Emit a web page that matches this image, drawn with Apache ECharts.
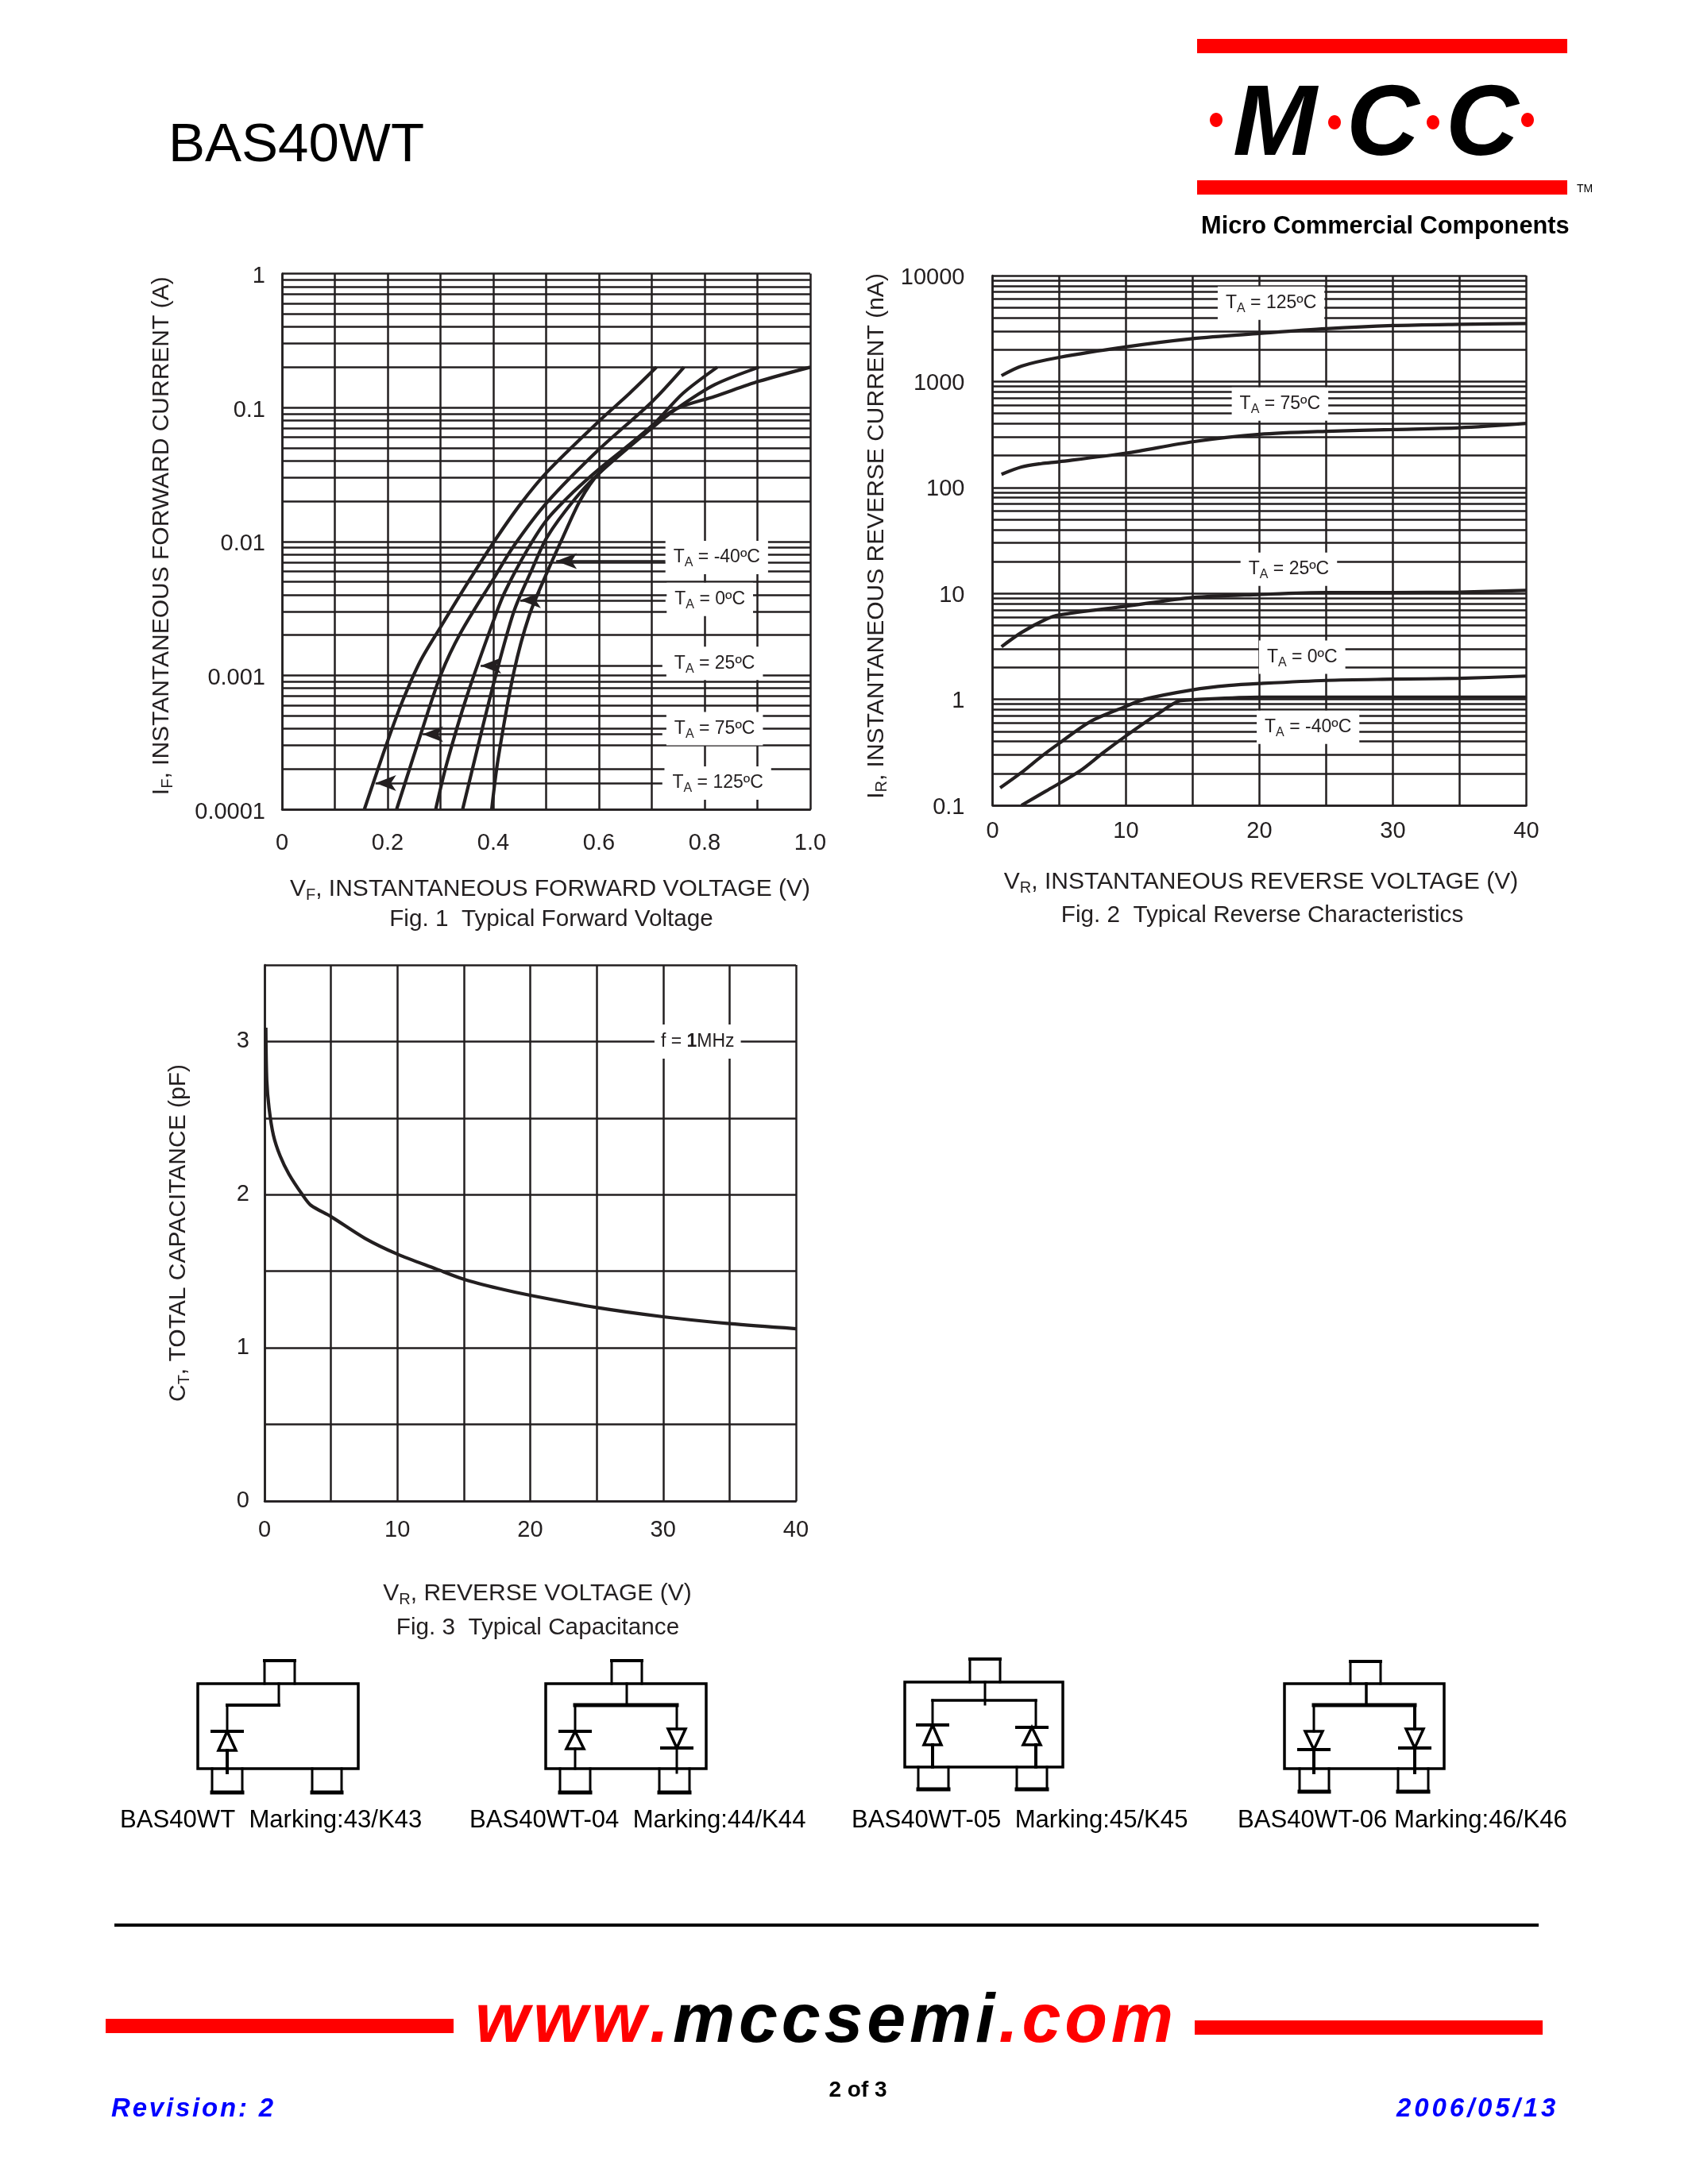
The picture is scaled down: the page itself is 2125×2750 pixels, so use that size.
<!DOCTYPE html>
<html>
<head>
<meta charset="utf-8">
<title>BAS40WT</title>
<script src="https://cdn.jsdelivr.net/npm/echarts@6/dist/echarts.min.js"></script>
<style>html,body{margin:0;padding:0;background:#fff}#page{width:2125px;height:2750px}</style>
</head>
<body>
<div id="page"></div>
<script>
// Fig. 1: forward current (A) against forward voltage (V)
const forward125 = [[0.156,1e-4],[0.198,3.07e-4],[0.228,6.4e-4],[0.262,1.28e-3],[0.301,2.32e-3],[0.354,5.09e-3],[0.401,0.0099],[0.451,0.0189],[0.502,0.0331],[0.599,0.0784],[0.658,0.1276],[0.709,0.2]];
const forward75 = [[0.217,1e-4],[0.27,4.47e-4],[0.301,1.02e-3],[0.338,2.07e-3],[0.401,5.3e-3],[0.439,0.00927],[0.502,0.0196],[0.599,0.0482],[0.70,0.11],[0.761,0.2]];
const forward25 = [[0.291,1e-4],[0.312,2.2e-4],[0.35,7e-4],[0.401,2.6e-3],[0.422,4.2e-3],[0.464,8.6e-3],[0.502,0.0146],[0.553,0.0237],[0.599,0.0344],[0.70,0.0728],[0.759,0.1276],[0.824,0.2]];
const forward0 = [[0.342,1e-4],[0.371,2.96e-4],[0.401,8.8e-4],[0.439,3.0e-3],[0.473,6.15e-3],[0.502,0.0108],[0.553,0.0204],[0.599,0.0319],[0.70,0.0701],[0.747,0.098],[0.819,0.148],[0.903,0.2]];
const forwardM40 = [[0.397,1e-4],[0.409,2.36e-4],[0.439,1.06e-3],[0.468,2.8e-3],[0.502,5.9e-3],[0.532,0.0108],[0.565,0.0204],[0.599,0.0319],[0.70,0.0728],[0.747,0.098],[0.819,0.121],[0.903,0.157],[1.0,0.2]];
const forwardXLabels = {0:'0',0.2:'0.2',0.4:'0.4',0.6:'0.6',0.8:'0.8',1:'1.0'};
const forwardYLabels = ['0.0001','0.001','0.01','0.1','1'];
const forwardDecades = [1e-4,1e-3,1e-2,1e-1];

// Fig. 2: reverse current (nA) against reverse voltage (V)
const reverse125 = [[0.67,1136],[2.17,1400],[5,1690],[9.95,2120],[15,2540],[20,2845],[25,3155],[30,3375],[35,3470],[40,3530]];
const reverse75 = [[0.67,133],[2.17,156],[3.67,168],[5,175],[10,211],[15,270],[20,317],[25,339],[30,352],[35,366],[40,402]];
const reverse25 = [[0.67,3.14],[2.17,4.28],[4,5.7],[5,6.27],[10,7.57],[15,9.14],[20,9.77],[25,10.2],[30,10.2],[35,10.3],[40,10.7]];
const reverse0 = [[0.57,0.146],[2.17,0.204],[3.67,0.29],[5,0.385],[7.33,0.617],[10,0.86],[11.35,1],[15,1.23],[17.7,1.35],[20,1.41],[25,1.51],[30,1.55],[35,1.58],[40,1.66]];
const reverseM40 = [[2.17,0.1],[4,0.136],[6.5,0.209],[8.35,0.318],[10,0.452],[12.35,0.724],[14,0.966],[15,0.99],[20,1.05],[25,1.05],[30,1.05],[40,1.05]];
const reverseYLabels = ['0.1','1','10','100','1000','10000'];
const reverseDecades = [0.1,1,10,100,1000];

// Fig. 3: total capacitance (pF) against reverse voltage (V)
const capacitance = [[0.1,3.09],[0.17,2.746],[0.34,2.567],[0.67,2.388],[1.17,2.254],[1.84,2.134],[2.85,2.0],[3.5,1.93],[5,1.857],[7.54,1.716],[10,1.612],[12.9,1.516],[15,1.448],[17.6,1.388],[20,1.343],[25,1.263],[30,1.203],[35,1.158],[40,1.125]];

const INK = '#231f20';
const FONT = '"Liberation Sans", Arial, sans-serif';
const TICK_SIZE = 29;
const NAME_SIZE = 30;
const TAG_SIZE = 23;
const GRID_WIDTH = 2.5;

const minorMultipliers = [2,3,4,5,6,7,8,9];
const decadeLines = (decades, xMin, xMax) => decades.flatMap(d => minorMultipliers.map(m => {
  const v = +(d*m).toPrecision(3);
  return [{coord: [xMin, v]}, {coord: [xMax, v]}];
}));

const nameRich = {
  a: {fontFamily: FONT, fontSize: NAME_SIZE, color: INK},
  s: {fontFamily: FONT, fontSize: 20, color: INK, padding: [14,0,0,0]}
};
const tagRich = {
  t: {fontFamily: FONT, fontSize: TAG_SIZE, color: INK},
  b: {fontFamily: FONT, fontSize: TAG_SIZE, color: INK, fontWeight: 'bold'},
  s: {fontFamily: FONT, fontSize: 16, color: INK, padding: [14,0,0,0]}
};

const tickLabel = extra => Object.assign({fontFamily: FONT, fontSize: TICK_SIZE, color: INK, hideOverlap: false, showMinLabel: true, showMaxLabel: true}, extra);

function valueAxis(idx, opts) {
  return Object.assign({
    gridIndex: idx, type: 'value', nameLocation: 'middle', silent: true,
    axisLine: {show: true, onZero: false, lineStyle: {color: INK, width: GRID_WIDTH}},
    axisTick: {show: false},
    splitLine: {show: true, lineStyle: {color: INK, width: GRID_WIDTH, type: 'solid'}}
  }, opts);
}
const minorX = {
  minorTick: {show: false, splitNumber: 2},
  minorSplitLine: {show: true, lineStyle: {color: INK, width: GRID_WIDTH}}
};

function curve(name, data, idx) {
  return {name, type: 'line', xAxisIndex: idx, yAxisIndex: idx, data, smooth: 0.3, showSymbol: false, symbol: 'none', z: 3, clip: false,
    lineStyle: {color: INK, width: 4.2, cap: 'butt'}, silent: true};
}
function gridSeries(idx, lines) {
  return {type: 'line', xAxisIndex: idx, yAxisIndex: idx, data: [], z: 1, silent: true,
    markLine: {silent: true, symbol: 'none', animation: false, z: 1, label: {show: false}, emphasis: {disabled: true},
      lineStyle: {color: INK, width: GRID_WIDTH, type: 'solid'}, data: lines}};
}
function tags(idx, items, arrows) {
  return {type: 'line', xAxisIndex: idx, yAxisIndex: idx, data: [], z: 6, silent: true,
    markLine: {silent: true, animation: false, z: 6, label: {show: false}, symbol: ['none','arrow'], emphasis: {disabled: true},
      lineStyle: {color: INK, width: 2.5, type: 'solid'},
      data: arrows.map(a => [{coord: [a[0], a[2]], symbol: 'none', symbolSize: 0}, {coord: [a[1], a[2]], symbol: 'arrow', symbolSize: [15, 26]}])},
    markPoint: {silent: true, animation: false, z: 7, symbol: 'circle', symbolSize: 0, emphasis: {disabled: true},
      data: items.map(t => ({coord: [t[1], t[2]], value: t[0],
        label: {show: true, position: 'inside', formatter: t[0], rich: tagRich, backgroundColor: '#fff', padding: t[3] || [6,10]}}))}};
}
const tempTag = s => `{t|T}{s|A}{t| = ${s}ºC}`;

// Element helpers for the page furniture drawn around the plots
const seg = (x1,y1,x2,y2,w) => ({type:'line', shape:{x1,y1,x2,y2}, style:{stroke:'#000', lineWidth:w||3, lineCap:'square'}, silent:true});
const box = (x,y,width,height,fill) => ({type:'rect', shape:{x,y,width,height}, style:{fill}, silent:true});
const frame = (x,y,width,height,w) => ({type:'rect', shape:{x,y,width,height}, style:{fill:'none', stroke:'#000', lineWidth:w||3}, silent:true});
const label = (x,y,text,size,o) => ({type:'text', x, y, silent:true, style:Object.assign({text, fontFamily:FONT, fontSize:size, fill:'#000', align:'left', verticalAlign:'middle'}, o||{})});
const pinDown = (x0,x1,y0,y1,w) => [seg(x0,y0,x0,y1,3), seg(x1,y0,x1,y1,3), seg(x0,y1,x1,y1,w||5)];
const tri = (cx,baseY,apexY,half) => ({type:'polygon', shape:{points:[[cx-half,baseY],[cx+half,baseY],[cx,apexY]]}, style:{fill:'none', stroke:'#000', lineWidth:3.5}, silent:true});
const diode = (cx,barY,baseY,barHalf,baseHalf) => [seg(cx-barHalf,barY,cx+barHalf,barY,4), tri(cx,baseY,barY,baseHalf)];

function schematic(body, topPin, pins, wires, diodes) {
  return [frame(body[0],body[1],body[2]-body[0],body[3]-body[1],3.5)]
    .concat([seg(topPin[0],body[1],topPin[0],topPin[2],3), seg(topPin[1],body[1],topPin[1],topPin[2],3), seg(topPin[0],topPin[2],topPin[1],topPin[2],4)])
    .concat(pins.flatMap(p => pinDown(p[0],p[1],body[3],p[2])))
    .concat(wires.map(w => seg(w[0],w[1],w[2],w[3],w[4])))
    .concat(diodes.flatMap(d => diode(d[0],d[1],d[2],d[3],d[4])));
}

const pageText = [
  label(212,184,'BAS40WT',69),
  label(1512,286,'Micro Commercial Components',30.8,{fontWeight:'bold'}),
  label(1985,238,'TM',14),
  label(151,2292,'BAS40WT  Marking:43/K43',31.1),
  label(591,2292,'BAS40WT-04  Marking:44/K44',31.1),
  label(1072,2292,'BAS40WT-05  Marking:45/K45',31.1),
  label(1558,2292,'BAS40WT-06 Marking:46/K46',31.1),
  label(1080,2632,'2 of 3',28,{fontWeight:'bold',align:'center'})
];
const logoLetters = [
  label(1552,160,'M',127,{fontWeight:'bold',fontStyle:'italic'}),
  label(1695,160,'C',127,{fontWeight:'bold',fontStyle:'italic'}),
  label(1820,160,'C',127,{fontWeight:'bold',fontStyle:'italic'})
];
const ellipse = (cx,cy) => ({type:'ellipse', shape:{cx,cy,rx:8,ry:9}, style:{fill:'#f00'}, silent:true});

// Spaced-out footer strings are set one glyph at a time
const ruler = document.createElement('canvas').getContext('2d');
function spaced(x, y, text, size, spacing, colorAt) {
  ruler.font = `italic bold ${size}px ${FONT}`;
  const out = [];
  let pen = x;
  [...text].forEach((ch, i) => {
    out.push(label(pen, y, ch, size, {fontWeight:'bold', fontStyle:'italic', fill: colorAt(i), verticalAlign:'middle'}));
    pen += ruler.measureText(ch).width + spacing;
  });
  return out;
}

const captionStyle = {fontFamily:FONT, fontSize:29.7, fontWeight:'normal', color:INK};

const chart = echarts.init(document.getElementById('page'), null, {renderer:'canvas', width:2125, height:2750});
chart.setOption({
  animation: false,
  backgroundColor: '#fff',
  title: [
    {text:'Fig. 1  Typical Forward Voltage', left:689, top:1138, textAlign:'center', textStyle:captionStyle},
    {text:'Fig. 2  Typical Reverse Characteristics', left:1584, top:1133, textAlign:'center', textStyle:captionStyle},
    {text:'Fig. 3  Typical Capacitance', left:672, top:2030, textAlign:'center', textStyle:captionStyle}
  ],
  grid: [
    {left:355, top:344.5, width:665, height:674.5},
    {left:1249.5, top:347, width:672, height:667},
    {left:333, top:1215, width:669, height:675}
  ],
  xAxis: [
    valueAxis(0, Object.assign({min:0, max:1, interval:0.2, name:'{a|V}{s|F}{a|, INSTANTANEOUS FORWARD VOLTAGE (V)}', nameGap:84,
      nameTextStyle:{rich:nameRich, padding:[0,0,0,10]},
      axisLabel:tickLabel({margin:28, formatter:v=>forwardXLabels[+v.toFixed(1)]})}, minorX)),
    valueAxis(1, Object.assign({min:0, max:40, interval:10, name:'{a|V}{s|R}{a|, INSTANTANEOUS REVERSE VOLTAGE (V)}', nameGap:80,
      nameTextStyle:{rich:nameRich, padding:[0,0,0,4]},
      axisLabel:tickLabel({margin:18})}, minorX)),
    valueAxis(2, Object.assign({min:0, max:40, interval:10, name:'{a|V}{s|R}{a|, REVERSE VOLTAGE (V)}', nameGap:100,
      nameTextStyle:{rich:nameRich, padding:[0,0,0,18]},
      axisLabel:tickLabel({margin:22})}, minorX))
  ],
  yAxis: [
    valueAxis(0, {type:'log', logBase:10, min:0.0001, max:1, name:'{a|I}{s|F}{a|, INSTANTANEOUS FORWARD CURRENT (A)}', nameGap:134,
      nameTextStyle:{rich:nameRich, padding:[0,0,0,14]},
      axisLabel:tickLabel({margin:21, verticalAlign:'top', padding:[-11,0,0,0], formatter:v=>forwardYLabels[Math.round(Math.log10(v))+4]})}),
    valueAxis(1, {type:'log', logBase:10, min:0.1, max:10000, name:'{a|I}{s|R}{a|, INSTANTANEOUS REVERSE CURRENT (nA)}', nameGap:129,
      nameTextStyle:{rich:nameRich, padding:[0,0,0,11]},
      axisLabel:tickLabel({margin:35, verticalAlign:'top', padding:[-12,0,0,0], formatter:v=>reverseYLabels[Math.round(Math.log10(v))+1]})}),
    valueAxis(2, {min:0, max:3.5, interval:0.5, name:'{a|C}{s|T}{a|, TOTAL CAPACITANCE (pF)}', nameGap:91,
      nameTextStyle:{rich:nameRich},
      axisLabel:tickLabel({margin:19, formatter:v=>Number.isInteger(v)?String(v):''})})
  ],
  series: [
    gridSeries(0, decadeLines(forwardDecades, 0, 1)),
    gridSeries(1, decadeLines(reverseDecades, 0, 40)),
    curve('TA = 125ºC', forward125, 0),
    curve('TA = 75ºC', forward75, 0),
    curve('TA = 25ºC', forward25, 0),
    curve('TA = 0ºC', forward0, 0),
    curve('TA = -40ºC', forwardM40, 0),
    curve('TA = 125ºC', reverse125, 1),
    curve('TA = 75ºC', reverse75, 1),
    curve('TA = 25ºC', reverse25, 1),
    curve('TA = 0ºC', reverse0, 1),
    curve('TA = -40ºC', reverseM40, 1),
    curve('CT', capacitance, 2),
    tags(0, [
      [tempTag('-40'),0.823,0.00758],
      [tempTag('0'),0.81,0.00369],
      [tempTag('25'),0.819,0.00123],
      [tempTag('75'),0.819,4e-4],
      [tempTag('125'),0.825,1.57e-4]
    ], [
      [0.726,0.519,0.00714],
      [0.726,0.451,0.00364],
      [0.72,0.376,0.00118],
      [0.72,0.266,3.63e-4],
      [0.72,0.177,1.57e-4]
    ]),
    tags(1, [
      [tempTag('125'),20.87,5495],
      [tempTag('75'),21.54,614],
      [tempTag('25'),22.2,16.9],
      [tempTag('0'),23.2,2.5],
      [tempTag('-40'),23.64,0.546]
    ], []),
    tags(2, [['{t|f = }{b|1}{t|MHz}',32.6,3.0,[10,8]]], [])
  ],
  graphic: {elements: [
    box(1507,49,466,18,'#f00'), box(1507,227,466,18,'#f00'),
    ...logoLetters,
    ellipse(1531,151), ellipse(1680,154), ellipse(1804,154), ellipse(1923,151),
    ...pageText,
    // device outlines, one per package variant
    ...schematic([249,2120,451,2227],[333,371,2091],[[267,305,2257],[393,430,2257]],
      [[351,2120,351,2147,3],[351,2147,286,2147,4],[286,2147,286,2180,3],[286,2204,286,2232,4]],
      [[286,2180,2204,19,11]]),
    ...schematic([687,2120,889,2227],[770,808,2091],[[705,743,2257],[830,868,2257]],
      [[789,2120,789,2147,3],[724,2147,852,2147,5],[724,2147,724,2180,3],[852,2147,852,2177,3],[724,2202,724,2227,3],[852,2201,852,2232,3]],
      [[724,2180,2202,19,11],[852,2201,2177,19,11]]),
    ...schematic([1139,2118,1338,2225],[1221,1259,2089],[[1156,1194,2253],[1280,1318,2253]],
      [[1240,2118,1240,2146,3],[1174,2141,1304,2141,3.5],[1174,2141,1174,2172,3],[1304,2141,1304,2175,3],[1174,2197,1174,2225,4],[1304,2197,1304,2225,4]],
      [[1174,2172,2197,19,11],[1299,2175,2197,19,11]]),
    ...schematic([1617,2120,1818,2227],[1700,1738,2092],[[1636,1673,2256],[1760,1798,2256]],
      [[1720,2120,1720,2147,3.5],[1654,2147,1781,2147,5],[1654,2147,1654,2180,3],[1781,2147,1781,2177,4],[1654,2203,1654,2232,4],[1781,2201,1781,2232,4]],
      [[1654,2203,2180,19,11],[1781,2201,2177,19,11]]),
    // footer
    box(144,2422,1793,4,'#000'),
    box(133,2542,438,18,'#f00'), box(1504,2544,438,18,'#f00'),
    ...spaced(598,2547,'www.mccsemi.com',88,4.8,i => (i<4||i>10)?'#f00':'#000'),
    ...spaced(140,2656,'Revision: 2',33,2.8,()=>'#00f'),
    ...spaced(1758,2656,'2006/05/13',33,3.9,()=>'#00f')
  ]}
});
</script>
</body>
</html>
